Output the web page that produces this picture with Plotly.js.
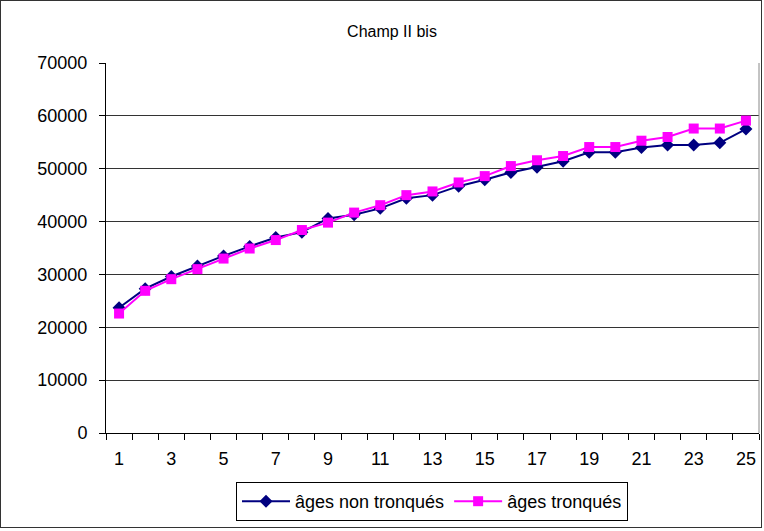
<!DOCTYPE html>
<html>
<head>
<meta charset="utf-8">
<script src="https://cdn.plot.ly/plotly-3.0.1.min.js"></script>
<style>
body{margin:0;padding:0;background:#fff;}
#wrap{position:relative;width:764px;height:531px;}
#chart{width:764px;height:531px;}
#frame{position:absolute;left:0;top:0;width:762px;height:528px;box-sizing:border-box;border:1px solid #333;pointer-events:none;}
</style>
</head>
<body>
<div id="wrap"><div id="chart"></div><div id="frame"></div></div>
<script>
const ages = [1,2,3,4,5,6,7,8,9,10,11,12,13,14,15,16,17,18,19,20,21,22,23,24,25];
const agesNonTronques = [23700,27300,29600,31600,33500,35300,37000,38000,40600,41300,42500,44400,45000,46700,47900,49300,50300,51400,53100,53100,54000,54500,54500,54900,57500];
const agesTronques = [22600,26900,29100,31000,33000,34900,36500,38400,39800,41700,43100,45000,45700,47400,48600,50500,51600,52400,54100,54100,55300,56000,57600,57600,59100];
const xLabels = ['1','3','5','7','9','11','13','15','17','19','21','23','25'];
const seriesNames = ['âges non tronqués','âges tronqués'];
const chartTitle = 'Champ II bis';

const labelVals = xLabels.map(Number);
const boundaries = [ages[0]-0.5].concat(ages.map(a=>a+0.5));

const traces = [
  {x: ages, y: agesNonTronques, name: seriesNames[0], type:'scatter', mode:'lines+markers',
   line:{color:'#000080', width:2}, marker:{symbol:'diamond', size:10, color:'#000080'}},
  {x: ages, y: agesTronques, name: seriesNames[1], type:'scatter', mode:'lines+markers',
   line:{color:'#FF00FF', width:2}, marker:{symbol:'square', size:10, color:'#FF00FF'}}
];

const font = {family:'Liberation Sans, Arial, sans-serif', color:'#000'};
const layout = {
  width:764, height:531,
  margin:{l:106, r:5, t:63, b:98},
  paper_bgcolor:'#fff', plot_bgcolor:'#fff',
  font: Object.assign({size:18}, font),
  title:{text:chartTitle, font:Object.assign({}, font, {size:16}), x:392/764, xanchor:'center', y:1-31/531, yanchor:'middle'},
  showlegend:true,
  legend:{orientation:'h', x:(432-106)/653, xanchor:'center', y:-(482-433)/370, yanchor:'top',
    bordercolor:'#000', borderwidth:1, font:Object.assign({}, font, {size:18}), itemwidth:48, tracegroupgap:0},
  xaxis:{range:[0.5,25.5], tickmode:'array', tickvals:boundaries, ticktext:boundaries.map(()=>''),
    ticks:'outside', ticklen:6, tickcolor:'#000', showgrid:false, zeroline:false,
    showline:true, linecolor:'#000', linewidth:1, fixedrange:true},
  xaxis2:{overlaying:'x', anchor:'y', side:'bottom', range:[0.5,25.5], tickmode:'array', tickvals:labelVals, ticktext:xLabels,
    ticks:'', showgrid:false, zeroline:false, showline:false, ticklabelstandoff:13, tickfont:Object.assign({}, font, {size:18})},
  yaxis:{range:[0,70000], tickmode:'linear', tick0:0, dtick:10000, tickformat:'d',
    ticks:'outside', ticklen:6, tickcolor:'#000', showgrid:true, gridcolor:'#333', gridwidth:1,
    zeroline:false, showline:true, linecolor:'#000', linewidth:1, ticklabelstandoff:8,
    tickfont:Object.assign({}, font, {size:18})},
  shapes:[{type:'line', xref:'paper', yref:'paper', x0:1, x1:1, y0:0, y1:1, line:{color:'#888', width:1}}]
};
// invisible helper so xaxis2 is drawn
traces.push({x:[ages[0]], y:[agesTronques[0]], xaxis:'x2', yaxis:'y', mode:'markers', marker:{opacity:0}, showlegend:false, hoverinfo:'skip'});
Plotly.newPlot('chart', traces, layout, {displayModeBar:false, staticPlot:true});
</script>
</body>
</html>
